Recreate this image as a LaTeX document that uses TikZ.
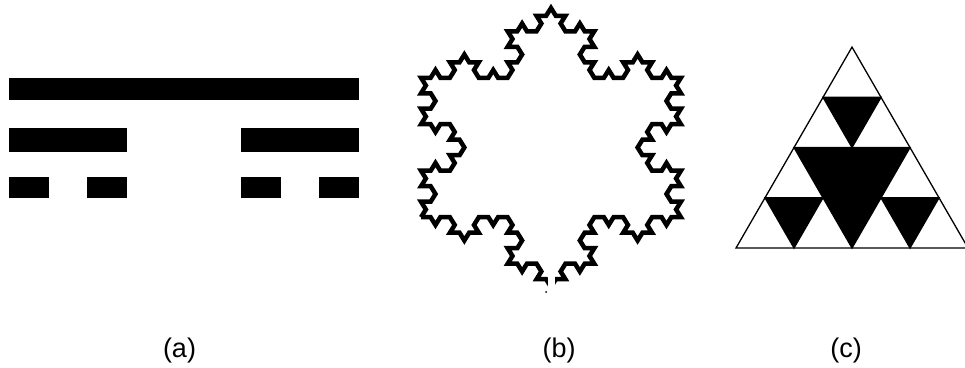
\documentclass[tikz,border=0pt]{standalone}
\usepackage{fontspec}
\setmainfont{Liberation Sans}
\usetikzlibrary{lindenmayersystems}

\pgfdeclarelindenmayersystem{Koch curve}{
  \rule{F -> F-F++F-F}
}

\begin{document}
\begin{tikzpicture}[x=1pt,y=1pt,
  bar/.style={fill=black},
  flake/.style={draw=black,line width=4.5pt,line join=miter},
  sier/.style={draw=black,line width=1.3pt,line join=miter},
  hole/.style={sier,fill=black},
  lbl/.style={font=\fontsize{27}{32}\selectfont,anchor=base},
]
\useasboundingbox (0,0) rectangle (965,367);

%% (a) Cantor bars, one row per level
\fill[bar] (9,267) rectangle (359,289);
\foreach \x in {9,241}{
  \fill[bar] (\x,215) rectangle ++(118,24);
}
\foreach \x in {9,87,241,319}{
  \fill[bar] (\x,169) rectangle ++(40,21);
}

%% (b) Koch snowflake, order 3 (bottom tip left open)
%% turtle starts at the lower left corner of the base triangle
\begin{scope}[shift={(421.02,149.76)},xscale=1.076]
  \draw[flake] (0,0)
    l-system[l-system={Koch curve, axiom=F++F++F, order=3,
                       step=8.948pt, angle=60}] -- cycle;
\end{scope}
\fill[white] (548,72) rectangle (555,100);
\fill (546,75) circle (1);

%% (c) Sierpinski triangle, level 2
\draw[sier] (736,119) -- (968,119) -- (852,319.9) -- cycle;
\filldraw[hole] (794,219.46) -- (910,219.46) -- (852,119) -- cycle;
%% small holes: \cx/\cy = bottom tip
\foreach \cx/\cy in {852/219.46, 794/119, 910/119}{
  \filldraw[hole] (\cx-29,\cy+50.23) -- (\cx+29,\cy+50.23) -- (\cx,\cy) -- cycle;
}

%% Captions
\node[lbl] (capa) at (179.5,10) {(a)};
\node[lbl] (capb) at (559,10) {(b)};
\node[lbl] (capc) at (846,10) {(c)};

\end{tikzpicture}
\end{document}
